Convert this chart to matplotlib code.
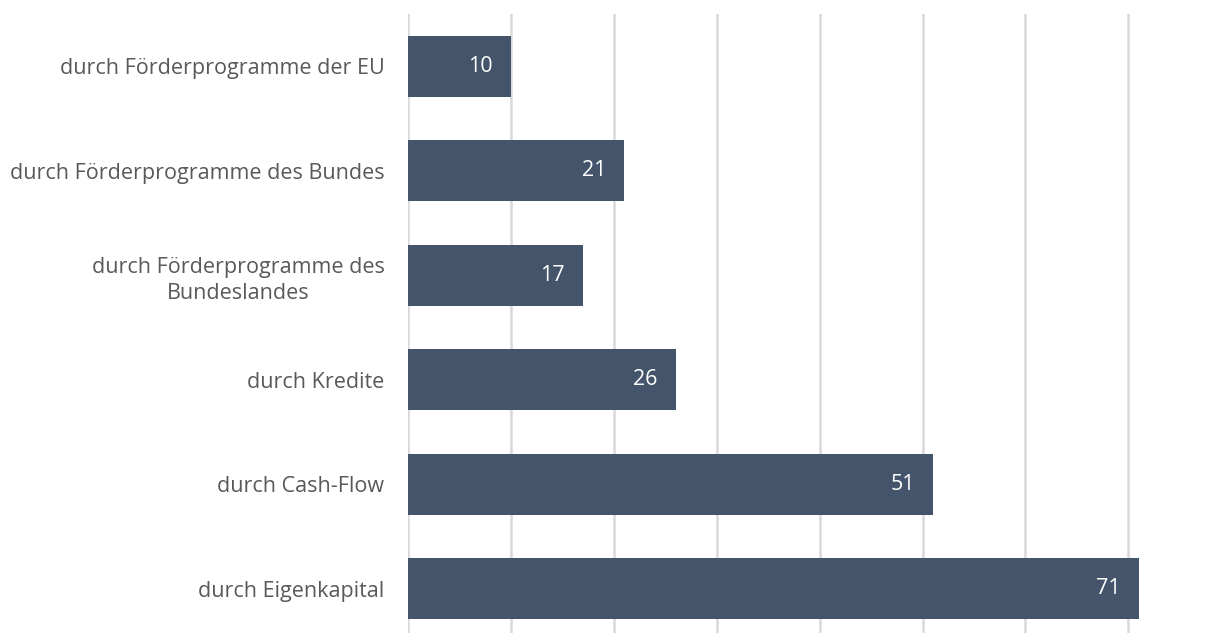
import matplotlib.pyplot as plt

categories = [
    "durch Förderprogramme der EU",
    "durch Förderprogramme des Bundes",
    "durch Förderprogramme des\nBundeslandes",
    "durch Kredite",
    "durch Cash-Flow",
    "durch Eigenkapital",
]
values = [10, 21, 17, 26, 51, 71]
gridlines = [0, 10, 20, 30, 40, 50, 60, 70]

BAR_COLOR = "#44546A"
TEXT_COLOR = "#595959"
GRID_COLOR = "#D9D9D9"

plt.rcParams["font.family"] = ["Open Sans", "DejaVu Sans"]

fig = plt.figure(figsize=(12.21, 6.33), dpi=100)
ax = fig.add_axes([408 / 1221, 1 - 641 / 633, 1 - 408 / 1221, 627 / 633])

positions = list(range(len(categories)))
bars = ax.barh(positions, values, height=0.58, color=BAR_COLOR, zorder=3)

for x in gridlines:
    ax.axvline(x, color=GRID_COLOR, linewidth=1.8, zorder=1)

# value labels inside the bar end
for bar, val in zip(bars, values):
    ax.annotate(str(val), (bar.get_width(), bar.get_y() + bar.get_height() / 2),
                xytext=(-13, 0), textcoords="offset points",
                ha="right", va="center", color="white", fontsize=15.5, zorder=4)

ax.set_xlim(0, 79)
ax.set_ylim(len(categories) - 0.5, -0.5)
ax.set_yticks(positions)
ax.set_yticklabels(categories, fontsize=15.5, color=TEXT_COLOR, multialignment="center",
                   linespacing=1.3)
ax.tick_params(axis="y", length=0, pad=17)
ax.set_xticks([])
for spine in ax.spines.values():
    spine.set_visible(False)

fig.savefig("out.png", dpi=100)
